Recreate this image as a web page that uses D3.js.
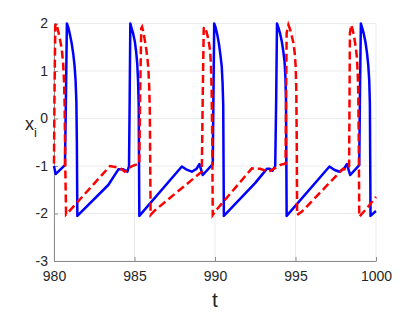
<!DOCTYPE html>
<html>
<head>
<meta charset="utf-8">
<script src="https://cdn.jsdelivr.net/npm/d3@7"></script>
<style>
  body { margin: 0; background: #fff; }
  svg { display: block; font-family: "Liberation Sans", Arial, sans-serif; }
</style>
</head>
<body>
<div id="chart"></div>
<script>
// blue solid series (t, x)
var tBlue = [980.0, 980.1, 980.68, 980.74,
  980.8, 980.9, 981.0, 981.1, 981.2, 981.28, 981.34, 981.39, 981.42, 981.45,
  983.37, 984.0, 984.3, 984.56, 984.66, 984.7,
  984.74, 984.82, 984.92, 985.02, 985.1, 985.17, 985.22, 985.26, 985.3,
  987.94, 988.2, 988.56, 988.85, 989.03, 989.24, 989.86, 989.9,
  989.95, 990.05, 990.15, 990.25, 990.34, 990.42, 990.47, 990.51, 990.55,
  992.49, 993.22, 993.4, 993.57, 993.74, 993.8,
  993.85, 993.95, 994.05, 994.15, 994.24, 994.32, 994.37, 994.41, 994.45,
  997.11, 997.4, 997.73, 998.0, 998.19, 998.4, 998.96, 999.0,
  999.06, 999.15, 999.25, 999.35, 999.44, 999.52, 999.58, 999.62, 999.66,
  999.95, 1000];
var xBlue = [-1.0, -1.17, -0.98, 0.4,
  2.0, 1.9, 1.75, 1.58, 1.35, 1.1, 0.8, 0.35, -0.5, -2.05,
  -1.4, -1.07, -1.07, -1.12, -1.0, 0.4,
  2.0, 1.9, 1.78, 1.62, 1.42, 1.15, 0.8, 0.3, -2.05,
  -1.01, -1.07, -1.12, -1.06, -0.96, -1.19, -0.96, 0.4,
  2.0, 1.9, 1.75, 1.56, 1.33, 1.09, 0.75, 0.3, -2.05,
  -1.36, -1.06, -1.06, -1.1, -1.0, 0.4,
  2.0, 1.9, 1.78, 1.62, 1.42, 1.2, 0.9, 0.4, -2.05,
  -1.01, -1.08, -1.12, -1.06, -0.96, -1.19, -0.98, 0.4,
  2.0, 1.9, 1.77, 1.6, 1.38, 1.12, 0.8, 0.3, -2.05,
  -1.96, -1.95];

// red dashed series (t, x)
var tRed = [980.0, 980.03,
  980.08, 980.14, 980.22, 980.32, 980.42, 980.5, 980.57, 980.62, 980.66, 980.7, 980.75,
  980.9, 983.48, 984.1, 984.4, 984.85, 985.3, 985.35,
  985.42, 985.47, 985.55, 985.64, 985.72, 985.8, 985.86, 985.91, 985.95, 986.0,
  986.28, 989.18, 989.24,
  989.3, 989.35, 989.45, 989.55, 989.63, 989.7, 989.75, 989.79, 989.83, 989.86,
  990.0, 992.29, 992.8, 993.32, 993.7, 994.1, 994.38,
  994.45, 994.56, 994.66, 994.76, 994.87, 994.95, 995.01, 995.05, 995.08, 995.1,
  995.4, 997.94, 998.2, 998.33,
  998.38, 998.46, 998.55, 998.65, 998.74, 998.81, 998.86, 998.9, 998.93, 998.96,
  999.43, 1000];
var xRed = [-0.95, 0.5,
  1.95, 2.0, 1.9, 1.75, 1.58, 1.4, 1.15, 0.8, 0.3, -1.0, -2.02,
  -1.97, -1.0, -1.04, -1.12, -1.0, -0.95, 0.5,
  1.9, 1.93, 1.82, 1.65, 1.48, 1.28, 1.05, 0.7, 0.2, -2.03,
  -1.93, -1.12, 0.5,
  1.9, 1.93, 1.85, 1.72, 1.58, 1.42, 1.1, 0.6, -0.5, -2.03,
  -1.96, -1.05, -1.06, -1.12, -1.05, -0.97, -0.95,
  1.8, 1.97, 1.88, 1.75, 1.59, 1.38, 1.1, 0.6, -0.5, -2.03,
  -1.96, -1.06, -1.08, -1.0,
  1.8, 1.97, 1.87, 1.7, 1.5, 1.3, 1.0, 0.5, -0.5, -2.07,
  -1.89, -1.65];

var xTicks = [980, 985, 990, 995, 1000];
var yTicks = [-3, -2, -1, 0, 1, 2];

var W = 415, H = 312;
var mLeft = 54, mRight = 376, mTop = 23.5, mBottom = 261;

var svg = d3.select("#chart").append("svg")
    .attr("width", W)
    .attr("height", H);

var x = d3.scaleLinear().domain([980, 1000]).range([mLeft, mRight]);
var y = d3.scaleLinear().domain([-3, 2]).range([mBottom, mTop]);

// grid
var grid = svg.append("g");
grid.selectAll(".gx")
    .data(xTicks)
    .enter().append("line")
    .attr("x1", function (d) { return x(d); })
    .attr("x2", function (d) { return x(d); })
    .attr("y1", mTop).attr("y2", mBottom)
    .style("stroke", "#ebebeb").style("stroke-width", 1);
grid.selectAll(".gy")
    .data(yTicks)
    .enter().append("line")
    .attr("x1", mLeft).attr("x2", mRight)
    .attr("y1", function (d) { return y(d); })
    .attr("y2", function (d) { return y(d); })
    .style("stroke", "#ebebeb").style("stroke-width", 1);

// axes, ticks inward like matlab
var xAxis = svg.append("g")
    .attr("transform", "translate(0," + mBottom + ")")
    .call(d3.axisBottom(x).tickValues(xTicks).tickSizeInner(-4).tickSizeOuter(0).tickPadding(10)
        .tickFormat(d3.format("d")));
var yAxis = svg.append("g")
    .attr("transform", "translate(" + mLeft + ",0)")
    .call(d3.axisLeft(y).tickValues(yTicks).tickSizeInner(-4).tickSizeOuter(0).tickPadding(6)
        .tickFormat(function (d) { return d < 0 ? "-" + Math.abs(d) : d; }));

[xAxis, yAxis].forEach(function (a) {
    a.select(".domain").style("stroke", "#8c8c8c").style("stroke-width", 1);
    a.selectAll(".tick line").style("stroke", "#8c8c8c");
    a.selectAll("text")
        .style("font-size", "14px")
        .style("fill", "#262626")
        .style("font-family", "Liberation Sans, Arial, sans-serif");
});

// lines
var blueData = tBlue.map(function (t, i) { return [t, xBlue[i]]; });
var redData = tRed.map(function (t, i) { return [t, xRed[i]]; });

var line = d3.line()
    .x(function (d) { return x(d[0]); })
    .y(function (d) { return y(d[1]); });

svg.append("path")
    .datum(blueData)
    .attr("d", line)
    .style("fill", "none")
    .style("stroke", "#0000ff")
    .style("stroke-width", 2.5)
    .style("stroke-linejoin", "round");

svg.append("path")
    .datum(redData)
    .attr("d", line)
    .style("fill", "none")
    .style("stroke", "#ff0000")
    .style("stroke-width", 2.5)
    .style("stroke-dasharray", "8,4");

// labels
svg.append("text")
    .attr("x", (mLeft + mRight) / 2)
    .attr("y", 307)
    .attr("text-anchor", "middle")
    .style("font-size", "21px")
    .style("fill", "#262626")
    .text("t");

var yl = svg.append("text")
    .attr("x", 25)
    .attr("y", 130)
    .style("font-size", "18px")
    .style("fill", "#262626");
yl.append("tspan").text("x");
yl.append("tspan").attr("dy", 7).style("font-size", "13px").text("i");
</script>
</body>
</html>
